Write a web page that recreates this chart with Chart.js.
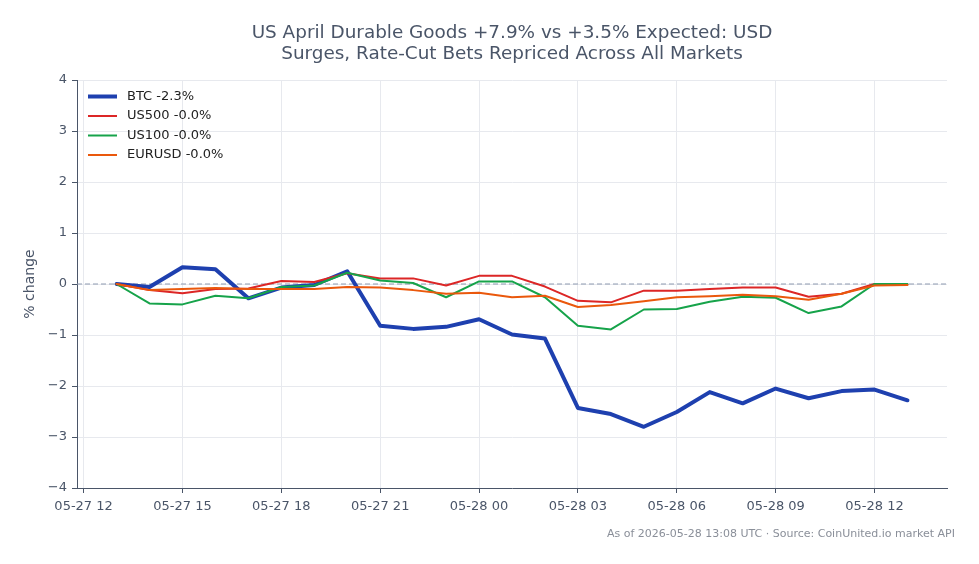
<!DOCTYPE html>
<html>
<head>
<meta charset="utf-8">
<script src="https://cdn.jsdelivr.net/npm/chart.js@4.4.1/dist/chart.umd.min.js"></script>
<style>
  html, body { margin: 0; padding: 0; background: #fff; }
</style>
</head>
<body>
<canvas id="chart" width="979" height="564"></canvas>
<script>
// hours since 05-27 12:00 UTC
const hours = [1, 2, 3, 4, 5, 6, 7, 8, 9, 10, 11, 12, 13, 14, 15, 16, 17, 18, 19, 20, 21, 22, 23, 24, 25];
const tickHours = [0, 3, 6, 9, 12, 15, 18, 21, 24];
const tickLabels = ['05-27 12', '05-27 15', '05-27 18', '05-27 21', '05-28 00', '05-28 03', '05-28 06', '05-28 09', '05-28 12'];
const yTicks = [-4, -3, -2, -1, 0, 1, 2, 3, 4];

const seriesNames = ['BTC -2.3%', 'US500 -0.0%', 'US100 -0.0%', 'EURUSD -0.0%'];
const btc = [0, -0.06, 0.33, 0.29, -0.28, -0.07, -0.02, 0.25, -0.82, -0.88, -0.84, -0.69, -0.99, -1.07,
  -2.43, -2.55, -2.80, -2.51, -2.12, -2.34, -2.05, -2.24, -2.10, -2.07, -2.28];
const us500 = [0, -0.12, -0.18, -0.10, -0.09, 0.06, 0.04, 0.21, 0.11, 0.11, -0.03, 0.16, 0.16, -0.05,
  -0.33, -0.36, -0.13, -0.13, -0.10, -0.07, -0.07, -0.25, -0.19, 0.0, -0.01];
const us100 = [0, -0.38, -0.40, -0.23, -0.28, -0.06, -0.03, 0.22, 0.07, 0.02, -0.26, 0.05, 0.05, -0.26,
  -0.82, -0.89, -0.50, -0.49, -0.35, -0.25, -0.27, -0.57, -0.44, 0.0, 0.0];
const eurusd = [0, -0.12, -0.10, -0.08, -0.10, -0.10, -0.10, -0.06, -0.07, -0.12, -0.19, -0.17, -0.26, -0.23,
  -0.45, -0.41, -0.34, -0.26, -0.24, -0.21, -0.24, -0.31, -0.19, -0.03, -0.02];

const colors = ['#1e40af', '#dc2626', '#16a34a', '#ea580c'];
const widths = [4, 2, 2, 2];
const axisColor = '#4a5568';
const gridColor = '#e7e9ee';

Chart.defaults.font.family = 'DejaVu Sans';

function toPoints(vals) {
  return vals.map((v, i) => ({ x: hours[i], y: v }));
}

const allSeries = [btc, us500, us100, eurusd];
const datasets = allSeries.map((vals, i) => ({
  label: seriesNames[i],
  data: toPoints(vals),
  borderColor: colors[i],
  backgroundColor: colors[i],
  borderWidth: widths[i],
  pointRadius: 0,
  tension: 0,
  borderJoinStyle: 'round',
  borderCapStyle: 'round',
  order: 3 - i
}));

// dashed zero line, title, legend and footnote
const decorations = {
  id: 'decorations',
  beforeDatasetsDraw(chart) {
    const { ctx, chartArea } = chart;
    const y0 = chart.scales.y.getPixelForValue(0);
    ctx.save();
    ctx.strokeStyle = '#8f9bb0';
    ctx.lineWidth = 1;
    ctx.setLineDash([5, 3]);
    ctx.beginPath();
    ctx.moveTo(chartArea.left, y0);
    ctx.lineTo(chartArea.right, y0);
    ctx.stroke();
    ctx.restore();
  },
  afterDraw(chart) {
    const { ctx, chartArea } = chart;
    ctx.save();
    // title
    const cx = (chartArea.left + chartArea.right) / 2;
    ctx.fillStyle = axisColor;
    ctx.font = '18.4px "DejaVu Sans"';
    ctx.textAlign = 'center';
    ctx.textBaseline = 'middle';
    ctx.fillText('US April Durable Goods +7.9% vs +3.5% Expected: USD', cx, 33);
    ctx.fillText('Surges, Rate-Cut Bets Repriced Across All Markets', cx, 54);

    // legend
    ctx.font = '13px "DejaVu Sans"';
    ctx.textAlign = 'left';
    chart.data.datasets.forEach((ds, i) => {
      const y = 96.5 + i * 19.5;
      ctx.strokeStyle = ds.borderColor;
      ctx.lineWidth = ds.borderWidth;
      ctx.beginPath();
      ctx.moveTo(88, y);
      ctx.lineTo(117, y);
      ctx.stroke();
      ctx.fillStyle = '#222';
      ctx.fillText(ds.label, 127, y);
    });

    // footnote
    ctx.font = '11px "DejaVu Sans"';
    ctx.fillStyle = '#8a8f99';
    ctx.textAlign = 'right';
    ctx.fillText('As of 2026-05-28 13:08 UTC \u00b7 Source: CoinUnited.io market API', 955, 534);
    ctx.restore();
  }
};

new Chart(document.getElementById('chart'), {
  type: 'line',
  data: { datasets },
  options: {
    responsive: false,
    animation: false,
    events: [],
    layout: { padding: { top: 80, right: 32, left: 0, bottom: 36 } },
    plugins: {
      legend: { display: false },
      title: { display: false },
      tooltip: { enabled: false }
    },
    scales: {
      x: {
        type: 'linear',
        min: -0.2,
        max: 26.2,
        afterBuildTicks(scale) {
          scale.ticks = tickHours.map(v => ({ value: v }));
        },
        afterFit(scale) { scale.height = 40; },
        ticks: {
          color: axisColor,
          font: { size: 13 },
          padding: 6,
          maxRotation: 0,
          autoSkip: false,
          callback: (v) => tickLabels[tickHours.indexOf(v)]
        },
        grid: { color: gridColor, tickColor: axisColor, tickLength: 5, drawTicks: true },
        border: { display: true, color: axisColor, width: 1 }
      },
      y: {
        min: -4,
        max: 4,
        afterBuildTicks(scale) {
          scale.ticks = yTicks.map(v => ({ value: v }));
        },
        afterFit(scale) { scale.width = 77; },
        ticks: {
          color: axisColor,
          font: { size: 13 },
          padding: 5,
          callback: (v) => (v < 0 ? '\u2212' + Math.abs(v) : String(v))
        },
        title: {
          display: true,
          text: '% change',
          color: axisColor,
          font: { size: 14 },
          padding: { top: 22, bottom: 0 }
        },
        grid: { color: gridColor, tickColor: axisColor, tickLength: 5, drawTicks: true },
        border: { display: true, color: axisColor, width: 1 }
      }
    }
  },
  plugins: [decorations]
});
</script>
</body>
</html>
